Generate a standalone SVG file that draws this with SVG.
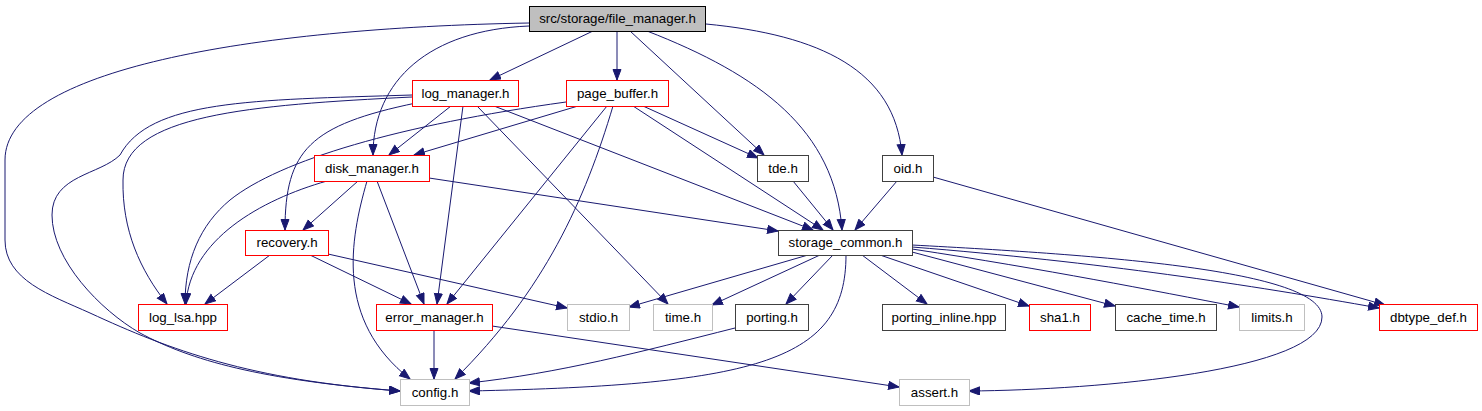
<svg xmlns="http://www.w3.org/2000/svg" width="1482" height="411" viewBox="0 0 1482 411">
<style>
.n rect{fill:#fff;stroke-width:1}
.r rect{stroke:#ff0000}
.k rect{stroke:#404040}
.g rect{stroke:#bfbfbf}
.n text{font-family:"Liberation Sans",Arial,sans-serif;font-size:13.3px;fill:#000;text-anchor:middle}
#edges path{fill:none;stroke:#191970;stroke-width:1;marker-end:url(#a)}
</style>
<defs>
<marker id="a" markerWidth="12" markerHeight="10" refX="11" refY="4.5" orient="auto" markerUnits="userSpaceOnUse"><path d="M0.5,0.5 L11,4.5 L0.5,8.5 z" fill="#191970" stroke="#191970" stroke-width="1"/></marker>
</defs>
<rect width="1482" height="411" fill="#fff"/>
<g id="edges">
<path d="M529,23 C250,28 5,70 5,160 L5,240 C5,280 50,295 90,313 C170,350 250,380 400,391"/>
<path d="M529,26 C430,30 373,80 373,155"/>
<path d="M593,31 L490,80"/>
<path d="M617,31 L617,80"/>
<path d="M630,31 L764,155"/>
<path d="M647,31 C760,75 835,130 842,230"/>
<path d="M706,24 C820,35 895,70 902,155"/>
<path d="M451,106 L389,155"/>
<path d="M578,106 L414,155"/>
<path d="M412,97 C250,105 123,115 123,180 C122,230 140,270 167,304"/>
<path d="M412,95 C250,100 150,100 120,155 C100,175 52,175 52,215 C52,260 100,310 140,333 C190,360 260,380 400,391"/>
<path d="M416,103 C310,125 285,150 285,230"/>
<path d="M463,106 L437,304"/>
<path d="M477,106 L668,304"/>
<path d="M494,106 L813,230"/>
<path d="M429,178 L778,231"/>
<path d="M643,106 L758,158"/>
<path d="M633,106 L823,230"/>
<path d="M793,181 L833,230"/>
<path d="M897,181 L855,230"/>
<path d="M566,102 C400,125 280,160 230,200 C200,225 185,260 185,304"/>
<path d="M327,181 C260,200 190,240 186,304"/>
<path d="M358,181 L303,230"/>
<path d="M367,181 C350,240 335,320 410,379"/>
<path d="M377,181 L424,304"/>
<path d="M607,106 L447,304"/>
<path d="M613,106 C585,200 545,290 455,379"/>
<path d="M270,255 L205,304"/>
<path d="M310,255 L411,304"/>
<path d="M328,254 L567,308"/>
<path d="M808,255 L629,307"/>
<path d="M820,255 L712,305"/>
<path d="M833,255 L786,304"/>
<path d="M846,255 C846,360 760,385 469,391"/>
<path d="M735,328 C640,352 560,373 469,383"/>
<path d="M862,255 L927,304"/>
<path d="M880,255 L1029,306"/>
<path d="M912,252 L1115,306"/>
<path d="M912,249 C1050,270 1150,290 1239,307"/>
<path d="M912,247 C1100,262 1250,285 1379,308"/>
<path d="M912,245 C1100,255 1322,270 1322,317 C1322,370 1100,390 969,391"/>
<path d="M933,177 L1385,305"/>
<path d="M434,330 L434,379"/>
<path d="M492,326 L899,387"/>
</g>
<g id="file_manager" class="n k"><rect x="529.5" y="6.5" width="176" height="25" style="fill:#bfbfbf;stroke:#000"/><text x="617.5" y="23">src/storage/file_manager.h</text></g>
<g id="log_manager" class="n r"><rect x="412.5" y="80.5" width="106" height="26"/><text x="465.5" y="97.5">log_manager.h</text></g>
<g id="page_buffer" class="n r"><rect x="566.5" y="80.5" width="102" height="26"/><text x="617.5" y="97.5">page_buffer.h</text></g>
<g id="disk_manager" class="n r"><rect x="314.5" y="155.5" width="115" height="26"/><text x="372" y="172.5">disk_manager.h</text></g>
<g id="tde" class="n k"><rect x="757.5" y="155.5" width="51" height="26"/><text x="783" y="172.5">tde.h</text></g>
<g id="oid" class="n k"><rect x="882.5" y="155.5" width="51" height="26"/><text x="908" y="172.5">oid.h</text></g>
<g id="recovery" class="n r"><rect x="245.5" y="230.5" width="83" height="25"/><text x="287" y="247">recovery.h</text></g>
<g id="storage_common" class="n k"><rect x="778.5" y="230.5" width="134" height="25"/><text x="845.5" y="247">storage_common.h</text></g>
<g id="log_lsa" class="n r"><rect x="138.5" y="304.5" width="89" height="26"/><text x="183" y="321.5">log_lsa.hpp</text></g>
<g id="error_manager" class="n r"><rect x="376.5" y="304.5" width="116" height="26"/><text x="434.5" y="321.5">error_manager.h</text></g>
<g id="stdio" class="n g"><rect x="567.5" y="304.5" width="62" height="26"/><text x="598.5" y="321.5">stdio.h</text></g>
<g id="time" class="n g"><rect x="653.5" y="304.5" width="59" height="26"/><text x="683" y="321.5">time.h</text></g>
<g id="porting" class="n k"><rect x="735.5" y="304.5" width="73" height="26"/><text x="772" y="321.5">porting.h</text></g>
<g id="porting_inline" class="n k"><rect x="882.5" y="304.5" width="123" height="26"/><text x="944" y="321.5">porting_inline.hpp</text></g>
<g id="sha1" class="n r"><rect x="1029.5" y="304.5" width="61" height="26"/><text x="1060" y="321.5">sha1.h</text></g>
<g id="cache_time" class="n k"><rect x="1115.5" y="304.5" width="101" height="26"/><text x="1166" y="321.5">cache_time.h</text></g>
<g id="limits" class="n g"><rect x="1239.5" y="304.5" width="65" height="26"/><text x="1272" y="321.5">limits.h</text></g>
<g id="dbtype_def" class="n r"><rect x="1379.5" y="304.5" width="98" height="26"/><text x="1428.5" y="321.5">dbtype_def.h</text></g>
<g id="config" class="n g"><rect x="400.5" y="379.5" width="69" height="26"/><text x="435" y="396.5">config.h</text></g>
<g id="assert" class="n g"><rect x="899.5" y="379.5" width="70" height="26"/><text x="934.5" y="396.5">assert.h</text></g>
</svg>
